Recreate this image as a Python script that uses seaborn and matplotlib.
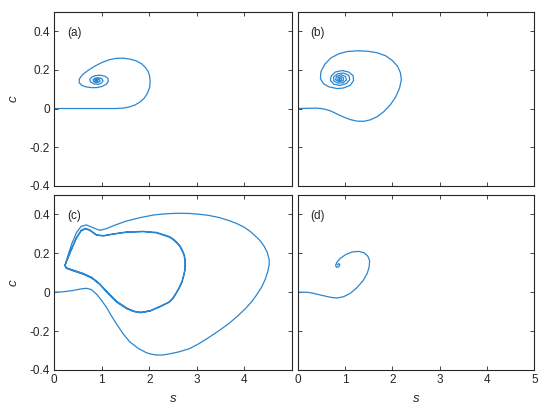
import matplotlib
matplotlib.use('Agg')
import matplotlib.pyplot as plt
import seaborn as sns

# trajectories, as (s, c) points
traj_a = [(0, 0), (0.5, 0), (1.0, 0), (1.30, 0.0), (1.45, 0.002), (1.58, 0.008), (1.70, 0.018), (1.81, 0.034),
          (1.90, 0.055), (1.97, 0.082), (2.01, 0.110), (2.02, 0.139), (2.01, 0.165), (1.98, 0.190), (1.92, 0.212),
          (1.84, 0.231), (1.73, 0.246), (1.60, 0.255), (1.45, 0.260), (1.30, 0.259), (1.15, 0.251), (1.00, 0.237),
          (0.85, 0.218), (0.71, 0.196), (0.60, 0.175), (0.53, 0.152), (0.53, 0.133), (0.58, 0.120), (0.67, 0.112),
          (0.78, 0.108), (0.90, 0.108), (1.01, 0.114), (1.10, 0.126), (1.14, 0.141), (1.13, 0.156), (1.07, 0.167),
          (0.97, 0.172), (0.87, 0.170), (0.79, 0.162), (0.75, 0.150), (0.77, 0.137), (0.84, 0.127), (0.93, 0.125),
          (1.00, 0.132), (1.03, 0.144), (1.00, 0.155), (0.93, 0.159), (0.86, 0.157), (0.82, 0.149), (0.83, 0.140),
          (0.88, 0.134), (0.94, 0.136), (0.97, 0.144), (0.95, 0.151), (0.90, 0.153), (0.86, 0.149), (0.86, 0.143),
          (0.89, 0.140), (0.92, 0.142), (0.92, 0.147), (0.89, 0.148), (0.88, 0.145), (0.90, 0.144)]

traj_b = [(0, 0), (0.41, 0.002), (0.55, -0.002), (0.69, -0.012), (0.83, -0.028), (0.97, -0.044), (1.11, -0.057),
          (1.25, -0.065), (1.40, -0.066), (1.54, -0.058), (1.68, -0.042), (1.82, -0.016), (1.96, 0.020),
          (2.07, 0.060), (2.15, 0.104), (2.19, 0.148), (2.17, 0.185), (2.11, 0.218), (2.00, 0.248), (1.86, 0.272),
          (1.68, 0.288), (1.47, 0.296), (1.25, 0.298), (1.04, 0.294), (0.87, 0.283), (0.70, 0.261), (0.57, 0.228),
          (0.49, 0.190), (0.48, 0.155), (0.54, 0.129), (0.66, 0.112), (0.83, 0.103), (0.97, 0.106), (1.11, 0.120),
          (1.18, 0.144), (1.17, 0.170), (1.08, 0.188), (0.94, 0.196), (0.80, 0.189), (0.71, 0.169), (0.69, 0.146),
          (0.76, 0.126), (0.89, 0.119), (1.03, 0.129), (1.10, 0.149), (1.08, 0.171), (0.97, 0.183), (0.85, 0.180),
          (0.76, 0.164), (0.76, 0.143), (0.85, 0.131), (0.96, 0.133), (1.03, 0.148), (1.01, 0.165), (0.92, 0.174),
          (0.82, 0.166), (0.80, 0.149), (0.87, 0.139), (0.96, 0.143), (0.97, 0.157), (0.92, 0.165), (0.85, 0.160),
          (0.85, 0.148), (0.91, 0.145), (0.93, 0.153), (0.89, 0.157), (0.88, 0.152)]

traj_c = [(0, 0), (0.19, 0.002), (0.40, 0.009), (0.57, 0.017), (0.68, 0.020), (0.78, 0.014), (0.89, -0.009),
          (0.99, -0.039), (1.10, -0.077), (1.20, -0.119), (1.31, -0.162), (1.45, -0.213), (1.59, -0.255),
          (1.77, -0.289), (1.94, -0.311), (2.05, -0.319), (2.15, -0.323), (2.28, -0.323), (2.41, -0.318),
          (2.62, -0.307), (2.84, -0.291), (3.05, -0.264), (3.25, -0.233), (3.46, -0.199), (3.67, -0.162),
          (3.86, -0.122), (4.02, -0.085), (4.16, -0.047), (4.27, -0.009), (4.37, 0.030), (4.44, 0.068),
          (4.49, 0.106), (4.52, 0.140), (4.52, 0.168), (4.48, 0.205), (4.41, 0.238), (4.33, 0.265), (4.23, 0.289),
          (4.12, 0.313), (3.99, 0.335), (3.84, 0.353), (3.67, 0.369), (3.47, 0.384), (3.25, 0.395), (3.05, 0.401),
          (2.84, 0.405), (2.62, 0.406), (2.41, 0.404), (2.24, 0.401), (2.09, 0.397), (1.80, 0.383), (1.52, 0.366),
          (1.27, 0.344), (1.10, 0.327), (0.96, 0.318), (0.82, 0.332), (0.68, 0.346), (0.57, 0.339), (0.47, 0.306),
          (0.37, 0.247), (0.28, 0.179), (0.23, 0.136),
          # first pass round the inner loop
          (0.26, 0.124), (0.40, 0.114), (0.61, 0.097), (0.79, 0.077), (0.96, 0.043), (1.14, -0.005),
          (1.31, -0.046), (1.52, -0.080), (1.67, -0.097), (1.82, -0.104), (2.03, -0.094), (2.22, -0.073),
          (2.41, -0.051), (2.49, -0.032), (2.55, -0.009), (2.62, 0.020), (2.68, 0.051), (2.72, 0.085),
          (2.75, 0.119), (2.75, 0.162), (2.73, 0.190), (2.69, 0.213), (2.64, 0.236), (2.57, 0.255), (2.50, 0.271),
          (2.41, 0.284), (2.15, 0.305), (1.88, 0.311), (1.52, 0.308), (1.24, 0.298), (1.04, 0.289), (0.89, 0.293),
          (0.75, 0.318), (0.66, 0.325), (0.57, 0.315), (0.47, 0.277), (0.37, 0.221), (0.27, 0.162), (0.23, 0.138),
          # second pass
          (0.26, 0.122), (0.40, 0.110), (0.61, 0.093), (0.79, 0.073), (0.96, 0.040), (1.14, -0.008),
          (1.31, -0.050), (1.52, -0.084), (1.67, -0.099), (1.82, -0.106), (2.02, -0.097), (2.23, -0.075),
          (2.42, -0.052), (2.50, -0.033), (2.56, -0.010), (2.63, 0.020), (2.69, 0.051), (2.73, 0.086),
          (2.76, 0.120), (2.76, 0.163), (2.74, 0.191), (2.70, 0.215), (2.65, 0.238), (2.58, 0.257), (2.51, 0.273),
          (2.42, 0.287), (2.15, 0.308), (1.88, 0.313), (1.52, 0.310), (1.24, 0.300), (1.04, 0.291), (0.89, 0.296),
          (0.75, 0.321), (0.66, 0.329), (0.57, 0.319), (0.47, 0.281), (0.37, 0.224), (0.27, 0.164), (0.23, 0.140),
          # last part
          (0.26, 0.126), (0.40, 0.112), (0.61, 0.095), (0.79, 0.075), (0.96, 0.042), (1.14, -0.006),
          (1.31, -0.048), (1.52, -0.082), (1.67, -0.098), (1.82, -0.104), (2.02, -0.096)]

traj_d = [(0, 0), (0.20, 0), (0.34, -0.006), (0.51, -0.016), (0.69, -0.026), (0.83, -0.030), (0.97, -0.023),
          (1.11, -0.006), (1.25, 0.023), (1.38, 0.059), (1.47, 0.097), (1.51, 0.131), (1.52, 0.162), (1.48, 0.186),
          (1.40, 0.203), (1.29, 0.210), (1.15, 0.207), (1.01, 0.193), (0.90, 0.174), (0.83, 0.155), (0.80, 0.138),
          (0.82, 0.128), (0.87, 0.131), (0.89, 0.142), (0.86, 0.147), (0.84, 0.140)]

panel_labels = ['(a)', '(b)', '(c)', '(d)']
x_ticks = [0, 1, 2, 3, 4, 5]
y_ticks = [-0.4, -0.2, 0, 0.2, 0.4]
y_ticklabels = ['-0.4', '-0.2', '0', '0.2', '0.4']

boxes = [[0.0982, 0.5529, 0.4327, 0.4190], [0.5413, 0.5529, 0.4302, 0.4190],
         [0.0982, 0.1106, 0.4327, 0.4207], [0.5413, 0.1106, 0.4302, 0.4207]]

sns.set_style('ticks')
plt.rcParams['font.family'] = ['Liberation Sans', 'DejaVu Sans']
plt.rcParams['axes.unicode_minus'] = False

line_col = '#2a86d1'
txt_col = '#262626'

fig = plt.figure(figsize=(5.5, 4.16), dpi=100)
for i, (lab, traj) in enumerate(zip(panel_labels, [traj_a, traj_b, traj_c, traj_d])):
    ax = fig.add_axes(boxes[i])
    s = [p[0] for p in traj]
    c = [p[1] for p in traj]
    sns.lineplot(x=s, y=c, sort=False, estimator=None, color=line_col, linewidth=0.9, ax=ax)
    ax.set_xlim(0, 5)
    ax.set_ylim(-0.4, 0.5)
    ax.set_xticks(x_ticks)
    ax.set_yticks(y_ticks)
    ax.tick_params(direction='in', top=True, right=True, length=3, width=0.6,
                   labelsize=8.5, labelcolor=txt_col, color=txt_col, pad=3)
    for sp in ax.spines.values():
        sp.set_color(txt_col)
        sp.set_linewidth(0.8)
    ax.set_xlabel('')
    ax.set_ylabel('')
    ax.text(0.055, 0.88, lab, transform=ax.transAxes, ha='left', va='center',
            fontsize=8.5, color=txt_col)
    if i < 2:
        ax.set_xticklabels([])
    else:
        ax.set_xlabel('s', fontsize=9.5, style='italic', color=txt_col)
        ax.xaxis.set_label_coords(0.5, -0.13)
        if i == 2:
            ax.set_xticklabels(['0', '1', '2', '3', '4', ''])
        else:
            ax.set_xticklabels([str(t) for t in x_ticks])
    if i % 2 == 1:
        ax.set_yticklabels([])
    else:
        ax.set_yticklabels(y_ticklabels)
        ax.set_ylabel('c', fontsize=9.5, style='italic', color=txt_col)
        ax.yaxis.set_label_coords(-0.145, 0.5)

fig.savefig('out.png', dpi=100)
